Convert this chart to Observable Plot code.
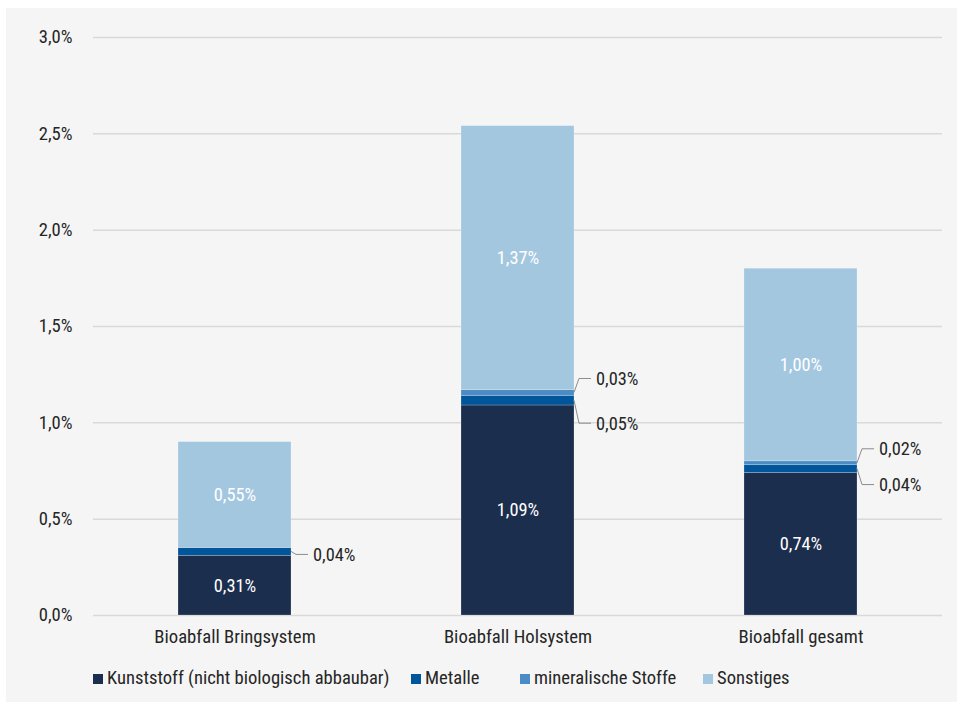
<!DOCTYPE html>
<html><head><meta charset="utf-8">
<script src="https://cdn.jsdelivr.net/npm/d3@7"></script>
<script src="https://cdn.jsdelivr.net/npm/@observablehq/plot@0.6"></script>
<style>
body{margin:0;background:#fff;font-family:Roboto,sans-serif;}
#wrap{position:absolute;left:6px;top:8px;width:951px;height:694px;background:#f5f5f5;}
#chart{position:absolute;left:0;top:0;}
#chart svg text{font-stretch:87.5%;}
#legend{position:absolute;top:660px;left:0;width:951px;height:20px;font-size:18.6px;font-stretch:87.5%;color:#262626;}
.li{position:absolute;top:0;line-height:20px;white-space:nowrap;}
.sw{display:inline-block;width:10px;height:10px;margin-right:4px;vertical-align:0px;}
</style></head><body><div id="wrap"><div id="chart"></div><div id="legend"></div></div>
<script>
const categories = ["Bioabfall Bringsystem", "Bioabfall Holsystem", "Bioabfall gesamt"];
const types = ["Kunststoff (nicht biologisch abbaubar)", "Metalle", "mineralische Stoffe", "Sonstiges"];
const kunststoff = [0.31, 1.09, 0.74];
const metalle = [0.04, 0.05, 0.04];
const mineralisch = [0, 0.03, 0.02];
const sonstiges = [0.55, 1.37, 1.00];
const yTicks = [0, 0.5, 1, 1.5, 2, 2.5, 3];
const colors = ["#1c2e4d", "#00559b", "#4b8cc5", "#a4c7e0"];

const series = [kunststoff, metalle, mineralisch, sonstiges];
const rows = [];
categories.forEach((cat, i) => {
  types.forEach((type, j) => {
    rows.push({cat, type, value: series[j][i], inside: j === 0 || j === 3});
  });
});

const fmtTick = d => d.toFixed(1).replace(".", ",") + "%";
const fmtVal = d => d.toFixed(2).replace(".", ",") + "%";

// pixel offsets for callout labels (layout only)
const calloutOffset = {"Metalle": [3, 23, 16], "mineralische Stoffe": [0, -14, -14]};

const callouts = [];
categories.forEach((cat, i) => {
  let base = 0;
  types.forEach((type, j) => {
    const v = series[j][i];
    if (!(j === 0 || j === 3) && v > 0) {
      callouts.push({cat, i, type, value: v, mid: base + v / 2});
    }
    base += v;
  });
});

const calloutMark = (index, scales) => {
  const x = scales.x, y = scales.y;
  const bw = typeof x.bandwidth === "function" ? x.bandwidth() : scales.scales.x.bandwidth;
  const g = d3.create("svg:g");
  for (const c of callouts) {
    const xe = x(c.cat) + bw;
    const ym = y(c.mid);
    const yl = ym + calloutOffset[c.type][c.i];
    g.append("path")
      .attr("d", `M${xe},${ym}L${xe + 5},${yl}L${xe + 17},${yl}`)
      .attr("fill", "none").attr("stroke", "#8c8c8c").attr("stroke-width", 1);
    g.append("text")
      .attr("x", xe + 22).attr("y", yl).attr("dy", "0.35em")
      .attr("text-anchor", "start")
      .attr("fill", "#262626").attr("font-size", 18.4)
      .text(fmtVal(c.value));
  }
  return g.node();
};

const chart = Plot.plot({
  width: 951, height: 660,
  marginTop: 29, marginBottom: 53, marginLeft: 87, marginRight: 15,
  style: {fontFamily: "Roboto, sans-serif", fontSize: "18.5px", color: "#262626", background: "transparent", overflow: "visible"},
  x: {domain: categories, paddingInner: 0.6, paddingOuter: 0.3, label: null, axis: null},
  y: {domain: [0, 3], label: null, axis: null},
  color: {domain: types, range: colors},
  marks: [
    Plot.ruleY(yTicks, {stroke: "#d9d9d9", strokeWidth: 1.5}),
    Plot.axisY(yTicks, {tickSize: 0, tickPadding: 21, tickFormat: fmtTick, label: null, fontSize: 18.6}),
    Plot.axisX({tickSize: 0, tickPadding: 14, label: null, fontSize: 18.7}),
    Plot.barY(rows, {x: "cat", y: "value", fill: "type", order: types, filter: d => d.value > 0,
      stroke: "#ffffff", strokeOpacity: 0.35, strokeWidth: 0.6}),
    Plot.text(rows, Plot.stackY({x: "cat", y: "value", z: "type", order: types,
      text: d => d.inside ? fmtVal(d.value) : null, fill: "white", fontSize: 18.4})),
    calloutMark
  ]
});
document.getElementById("chart").appendChild(chart);

const legendLeft = [87, 405, 514, 697];
const legend = document.getElementById("legend");
types.forEach((t, j) => {
  const s = document.createElement("span");
  s.className = "li";
  s.style.left = legendLeft[j] + "px";
  s.innerHTML = `<span class="sw" style="background:${colors[j]}"></span>`;
  s.appendChild(document.createTextNode(t));
  legend.appendChild(s);
});
</script></body></html>
